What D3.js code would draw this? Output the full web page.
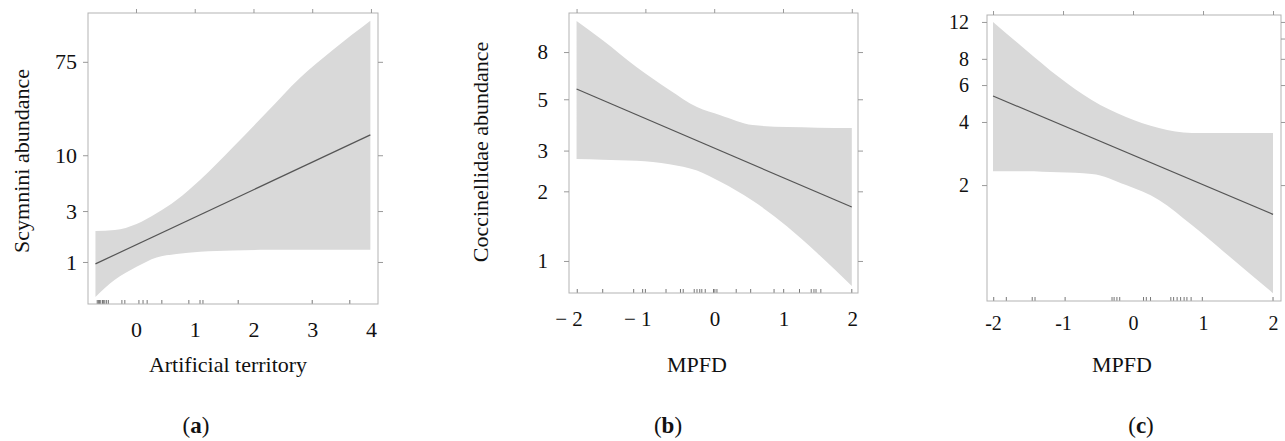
<!DOCTYPE html>
<html>
<head>
<meta charset="utf-8">
<script src="https://cdn.jsdelivr.net/npm/d3@7"></script>
<style>
  body { margin: 0; background: #fff; }
  svg text { font-family: "Liberation Serif", "Times New Roman", serif; fill: #111; }
</style>
</head>
<body>
<div id="vis"></div>
<script>
// (a) Scymnini abundance vs artificial territory
const aX     = [-0.69, -0.36, 0.01, 0.35, 0.69, 1.09, 1.65, 2.23, 2.79, 3.35, 3.99];
const aUpper = [1.95, 1.99, 2.27, 2.86, 3.81, 5.87, 11.9, 25.4, 52.9, 96.9, 182];
const aLower = [0.47, 0.68, 0.90, 1.10, 1.19, 1.25, 1.28, 1.30, 1.30, 1.30, 1.30];
const aFitX  = [-0.69, 3.99];
const aFitY  = [0.96, 15.5];
const aRug   = [-0.66, -0.64, -0.62, -0.60, -0.57, -0.55, -0.53, -0.50, -0.47,
                -0.24, -0.19, 0.05, 0.12, 0.19, 0.44, 0.90, 1.09, 1.14, 1.74, 3.00, 3.64];
const aXTicks = [0, 1, 2, 3, 4];
const aYTicks = [1, 3, 10, 75];

// (b) Coccinellidae abundance vs MPFD
const bX     = [-2, -1.62, -1.13, -0.65, -0.25, 0.09, 0.56, 1.06, 1.5, 2];
const bUpper = [10.9, 9.0, 6.9, 5.49, 4.63, 4.27, 3.87, 3.79, 3.77, 3.76];
const bLower = [2.76, 2.74, 2.71, 2.62, 2.46, 2.20, 1.82, 1.41, 1.08, 0.78];
const bFitX  = [-2, 2];
const bFitY  = [5.54, 1.71];
const bRug   = [-1.99, -1.62, -1.17, -1.04, -1.00, -0.70, -0.49, -0.45, -0.29, -0.25,
                -0.21, -0.18, -0.13, -0.01, 0.01, 0.04, 0.32, 0.53, 0.87, 1.01, 1.24,
                1.41, 1.45, 1.48, 1.55, 2.00];
const bXTicks = [-2, -1, 0, 1, 2];
const bYTicks = [1, 2, 3, 5, 8];

// (c) abundance vs MPFD
const cX     = [-2, -1.53, -1.06, -0.59, -0.10, 0.37, 0.84, 1.3, 2];
const cUpper = [12.0, 8.82, 6.55, 5.09, 4.22, 3.74, 3.54, 3.54, 3.54];
const cLower = [2.33, 2.33, 2.30, 2.26, 2.00, 1.70, 1.29, 0.96, 0.61];
const cFitX  = [-2, 2];
const cFitY  = [5.32, 1.45];
const cRug   = [-1.99, -1.81, -1.44, -1.40, -0.97, -0.30, -0.27, -0.23, -0.19, 0.15,
                0.19, 0.25, 0.54, 0.58, 0.63, 0.68, 0.73, 0.77, 0.83, 0.99, 2.00];
const cXTicks = [-2, -1, 0, 1, 2];
const cYTicks = [2, 4, 6, 8, 12];
const cYTicksRight = [2, 4, 6, 8, 10, 12];

const width = 1285;
const height = 441;

const svg = d3.select("#vis")
  .append("svg")
  .attr("width", width)
  .attr("height", height);

const panels = [
  {
    box: {x0: 88, y0: 13, x1: 378, y1: 304},
    xDomain: [-0.817, 4.12], yDomain: [0.404, 215],
    xs: aX, upper: aUpper, lower: aLower, fitX: aFitX, fitY: aFitY, rug: aRug,
    xTicks: aXTicks, yTicks: aYTicks, yTicksRight: aYTicks,
    fmtX: d => String(d), fontX: 22, fontY: 22, padY: 6, padX: 17,
    ytitle: "Scymnini abundance", ytitleX: 29, ytitleY: 161,
    xtitle: "Artificial territory", xtitleX: 228, tag: "a", tagX: 196
  },
  {
    box: {x0: 569, y0: 13, x1: 858, y1: 293},
    xDomain: [-2.11, 2.09], yDomain: [0.727, 11.8],
    xs: bX, upper: bUpper, lower: bLower, fitX: bFitX, fitY: bFitY, rug: bRug,
    xTicks: bXTicks, yTicks: bYTicks, yTicksRight: bYTicks,
    fmtX: d => d < 0 ? "\u2212 " + Math.abs(d) : String(d), anchorEnd: true,
    fontX: 21, fontY: 21, padY: 16, padX: 18,
    ytitle: "Coccinellidae abundance", ytitleX: 488, ytitleY: 152,
    xtitle: "MPFD", xtitleX: 697, tag: "b", tagX: 668
  },
  {
    box: {x0: 987, y0: 15, x1: 1281, y1: 301},
    xDomain: [-2.086, 2.114], yDomain: [0.56, 12.95],
    xs: cX, upper: cUpper, lower: cLower, fitX: cFitX, fitY: cFitY, rug: cRug,
    xTicks: cXTicks, yTicks: cYTicks, yTicksRight: cYTicksRight,
    fmtX: d => d < 0 ? "-" + Math.abs(d) : String(d),
    fontX: 20, fontY: 20, padY: 13, padX: 15,
    ytitle: null,
    xtitle: "MPFD", xtitleX: 1122, tag: "c", tagX: 1141
  }
];

function drawPanel(svg, p) {
  const b = p.box;
  const x = d3.scaleLinear().domain(p.xDomain).range([b.x0, b.x1]);
  const y = d3.scaleLog().domain(p.yDomain).range([b.y1, b.y0]);

  const g = svg.append("g");

  // confidence band
  const band = p.xs.map((v, i) => ({x: v, lo: p.lower[i], hi: p.upper[i]}));
  g.append("path")
    .datum(band)
    .attr("fill", "#d9d9d9")
    .attr("d", d3.area()
      .x(d => x(d.x))
      .y0(d => y(d.lo))
      .y1(d => y(d.hi))
      .curve(d3.curveMonotoneX));

  // fitted line
  g.append("path")
    .datum(p.fitX.map((v, i) => [v, p.fitY[i]]))
    .attr("fill", "none")
    .attr("stroke", "#555")
    .attr("stroke-width", 1.2)
    .attr("d", d3.line().x(d => x(d[0])).y(d => y(d[1])));

  // rug
  g.append("g")
    .selectAll("line")
    .data(p.rug)
    .join("line")
      .attr("x1", d => x(d)).attr("x2", d => x(d))
      .attr("y1", b.y1).attr("y2", b.y1 - 4)
      .attr("stroke", "#666")
      .attr("stroke-width", 0.9);

  // frame
  g.append("rect")
    .attr("x", b.x0).attr("y", b.y0)
    .attr("width", b.x1 - b.x0).attr("height", b.y1 - b.y0)
    .attr("fill", "none")
    .attr("stroke", "#b3b3b3")
    .attr("stroke-width", 1);

  // axes
  const left = g.append("g")
    .attr("transform", `translate(${b.x0},0)`)
    .call(d3.axisLeft(y).tickValues(p.yTicks).tickFormat(d => String(d))
      .tickSize(5).tickPadding(p.padY));
  left.select(".domain").remove();
  left.selectAll("text").attr("font-size", p.fontY).style("font-family", "Liberation Serif");

  const right = g.append("g")
    .attr("transform", `translate(${b.x1},0)`)
    .call(d3.axisRight(y).tickValues(p.yTicksRight).tickFormat("").tickSize(5));
  right.select(".domain").remove();

  const top = g.append("g")
    .attr("transform", `translate(0,${b.y0})`)
    .call(d3.axisTop(x).tickValues(p.xTicks).tickFormat("").tickSize(4));
  top.select(".domain").remove();

  const bottom = g.append("g")
    .attr("transform", `translate(0,${b.y1})`)
    .call(d3.axisBottom(x).tickValues(p.xTicks).tickFormat(p.fmtX)
      .tickSize(0).tickPadding(p.padX));
  bottom.select(".domain").remove();
  bottom.selectAll("text").attr("font-size", p.fontX).style("font-family", "Liberation Serif");
  if (p.anchorEnd) {
    bottom.selectAll("text").attr("text-anchor", "end").attr("dx", "0.27em");
  }

  g.selectAll(".tick line").attr("stroke", "#999");

  // titles
  if (p.ytitle) {
    g.append("text")
      .attr("transform", `translate(${p.ytitleX},${p.ytitleY}) rotate(-90)`)
      .attr("text-anchor", "middle")
      .attr("font-size", 22)
      .text(p.ytitle);
  }

  g.append("text")
    .attr("x", p.xtitleX).attr("y", 372)
    .attr("text-anchor", "middle")
    .attr("font-size", 22)
    .text(p.xtitle);

  const tag = g.append("text")
    .attr("x", p.tagX).attr("y", 433)
    .attr("text-anchor", "middle")
    .attr("font-size", 23);
  tag.append("tspan").text("(");
  tag.append("tspan").attr("font-weight", "bold").text(p.tag);
  tag.append("tspan").text(")");
}

for (const p of panels) drawPanel(svg, p);
</script>
</body>
</html>
